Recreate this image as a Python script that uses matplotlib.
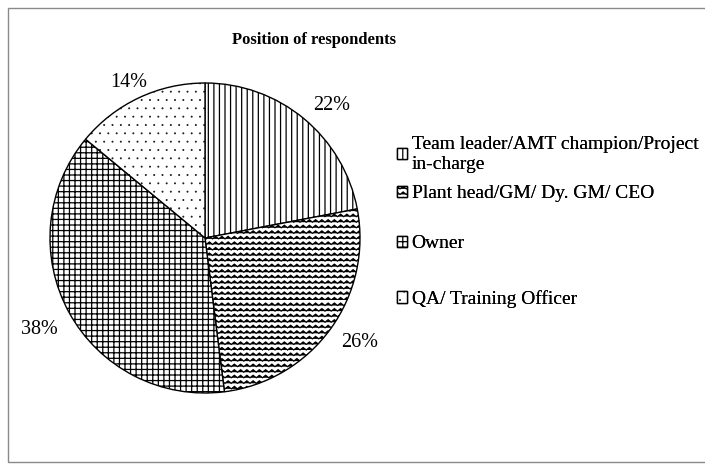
import warnings
import numpy as np
import matplotlib
matplotlib.use("Agg")
import matplotlib.pyplot as plt
import matplotlib.hatch as mhatch
from matplotlib.path import Path
from matplotlib.patches import Rectangle

warnings.filterwarnings("ignore")

# ---- data ----
categories = ["Team leader/AMT champion/Project\nin-charge",
              "Plant head/GM/ Dy. GM/ CEO",
              "Owner",
              "QA/ Training Officer"]
shares = [22, 26, 38, 14]
pct_labels = ["22%", "26%", "38%", "14%"]

# ---- styling ----
hatches = ["|||", "zzz", "+++", "dd"]
label_radius = [1.18, 1.20, 1.22, 1.12]
label_angle_shift = [-4, 2, 0, 1]
legend_y = [148, 197, 247, 302]  # pixel rows (from top)


# custom zigzag hatch
class ZigzagHatch(mhatch.HatchPatternBase):
    def __init__(self, hatch, density):
        n = hatch.count('z')
        self.rows = int(n * density) if n else 0
        self.periods = 16
        self.per_row = 2 * self.periods + 1
        self.num_vertices = self.rows * self.per_row

    def set_vertices_and_codes(self, vertices, codes):
        step = 1.0 / self.rows
        amp = step * 0.45
        xs = np.linspace(0, 1, self.per_row)
        ys_off = np.where(np.arange(self.per_row) % 2 == 0, 0.0, amp)
        for r in range(self.rows):
            sl = slice(r * self.per_row, (r + 1) * self.per_row)
            vertices[sl, 0] = xs
            vertices[sl, 1] = r * step + ys_off
            codes[sl] = Path.LINETO
            codes[r * self.per_row] = Path.MOVETO


# custom tiny dots hatch
class TinyDots(mhatch.Circles):
    size = 0.04
    filled = True

    def __init__(self, hatch, density):
        self.num_rows = hatch.count('d') * density
        super().__init__(hatch, density)


mhatch._hatch_types.append(ZigzagHatch)
mhatch._hatch_types.append(TinyDots)

plt.rcParams['font.family'] = ['Liberation Serif', 'DejaVu Serif']
plt.rcParams['hatch.linewidth'] = 0.9
plt.rcParams['hatch.color'] = 'black'

W, H = 705, 467
fig = plt.figure(figsize=(W / 100, H / 100), dpi=100)
fig.patch.set_facecolor('white')

cx, cy, R = 205, 238, 155
ax = fig.add_axes([(cx - R) / W, (H - cy - R) / H, 2 * R / W, 2 * R / H])

wedges, _ = ax.pie(shares, startangle=90, counterclock=False,
                   colors=['white'] * 4,
                   wedgeprops=dict(edgecolor='black', linewidth=1.0))
for w, h in zip(wedges, hatches):
    w.set_hatch(h)
ax.set_xlim(-1, 1)
ax.set_ylim(-1, 1)

for w, lab, rr, da in zip(wedges, pct_labels, label_radius, label_angle_shift):
    ang = np.deg2rad((w.theta1 + w.theta2) / 2 + da)
    ax.text(rr * np.cos(ang), rr * np.sin(ang), lab, ha='center', va='center',
            fontsize=14.5, clip_on=False)

fig.text(314 / W, 1 - 40 / H, "Position of respondents", ha='center',
         va='center', fontsize=12, fontweight='bold')

for w, lab, yy in zip(wedges, categories, legend_y):
    leg = fig.legend([w], [lab], loc='upper left',
                     bbox_to_anchor=(397 / W, 1 - (yy - 12) / H),
                     frameon=False, fontsize=14, handlelength=0.5,
                     handleheight=0.5, handletextpad=0.25,
                     borderpad=0, borderaxespad=0)
    fig.add_artist(leg)

fig.add_artist(Rectangle((8 / W, 5 / H), 1.2, (H - 8 - 5) / H,
                         transform=fig.transFigure, fill=False,
                         edgecolor='#8a8a8a', linewidth=1.0))

fig.savefig("out.png", dpi=100, facecolor='white')
